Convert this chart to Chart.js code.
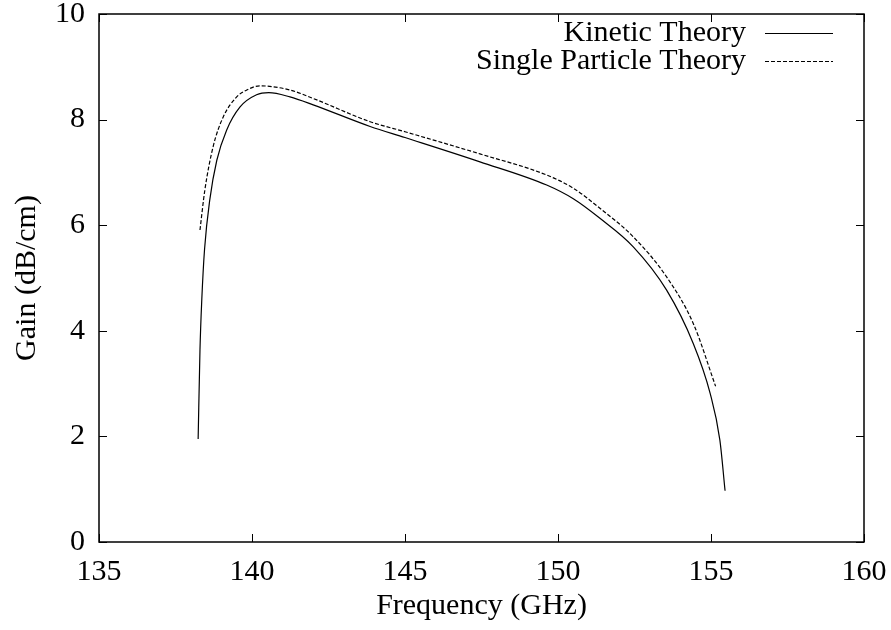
<!DOCTYPE html>
<html>
<head>
<meta charset="utf-8">
<script src="https://cdn.jsdelivr.net/npm/chart.js@4/dist/chart.umd.min.js"></script>
<style>
  html, body { margin: 0; padding: 0; background: #fff; }
  #wrap { width: 891px; height: 630px; }
</style>
</head>
<body>
<div id="wrap"><canvas id="gain"></canvas></div>
<script>
// Courbes (fréquence en GHz, gain en dB/cm)
const kineticFreq = [138.24, 138.30, 138.36, 138.45, 138.62, 138.85, 139.17, 139.61, 140.15, 140.55,
  141.24, 142.0, 143.86, 145.0, 147.45, 149.63, 150.5, 151.37, 152.46, 153.55, 154.42, 154.97, 155.29, 155.46];
const kineticGain = [1.95, 3.64, 4.6, 5.55, 6.48, 7.23, 7.80, 8.24, 8.47, 8.51,
  8.43, 8.28, 7.87, 7.66, 7.20, 6.76, 6.50, 6.13, 5.59, 4.77, 3.76, 2.82, 1.93, 0.97];

const singleFreq = [138.30, 138.46, 138.73, 139.06, 139.50, 139.83, 140.25, 141.24, 142.0, 143.86,
  145.0, 147.45, 149.63, 150.5, 151.37, 152.46, 153.55, 154.42, 155.15];
const singleGain = [5.91, 6.67, 7.49, 8.05, 8.43, 8.56, 8.64, 8.56, 8.40, 7.96,
  7.77, 7.35, 6.95, 6.70, 6.32, 5.78, 5.02, 4.14, 2.95];

const xTicks = [135, 140, 145, 150, 155, 160];
const yTicks = [0, 2, 4, 6, 8, 10];

const SERIF = "'Liberation Serif', 'DejaVu Serif', serif";

function toPoints(xs, ys) {
  return xs.map((x, i) => ({ x, y: ys[i] }));
}

// Cadre + graduations vers l'intérieur sur les quatre côtés, façon gnuplot
const framePlugin = {
  id: "frame",
  afterDraw(chart) {
    const { ctx, chartArea: a, scales } = chart;
    const len = 8;
    ctx.save();
    ctx.strokeStyle = "#000";
    ctx.lineWidth = 1.5;
    ctx.strokeRect(a.left, a.top, a.right - a.left, a.bottom - a.top);
    ctx.lineWidth = 1;
    ctx.beginPath();
    xTicks.forEach((v) => {
      const px = Math.round(scales.x.getPixelForValue(v)) + 0.5;
      ctx.moveTo(px, a.bottom); ctx.lineTo(px, a.bottom - len);
      ctx.moveTo(px, a.top); ctx.lineTo(px, a.top + len);
    });
    yTicks.forEach((v) => {
      const py = Math.round(scales.y.getPixelForValue(v)) + 0.5;
      ctx.moveTo(a.left, py); ctx.lineTo(a.left + len, py);
      ctx.moveTo(a.right, py); ctx.lineTo(a.right - len, py);
    });
    ctx.stroke();

    // Légende : texte aligné à droite puis échantillon de trait
    const rows = chart.data.datasets;
    ctx.font = "30px " + SERIF;
    ctx.fillStyle = "#000";
    ctx.textAlign = "right";
    ctx.textBaseline = "middle";
    rows.forEach((ds, i) => {
      const y = 33 + i * 28;
      ctx.fillText(ds.label, 746, y);
      ctx.beginPath();
      ctx.setLineDash(ds.borderDash || []);
      ctx.lineWidth = 1.2;
      ctx.moveTo(765, y + 0.5);
      ctx.lineTo(833, y + 0.5);
      ctx.stroke();
    });
    ctx.restore();
  },
};

new Chart(document.getElementById("gain"), {
  type: "line",
  data: {
    datasets: [
      {
        label: "Kinetic Theory",
        data: toPoints(kineticFreq, kineticGain),
        borderColor: "#000",
        borderWidth: 1.2,
        pointRadius: 0,
        cubicInterpolationMode: "monotone",
      },
      {
        label: "Single Particle Theory",
        data: toPoints(singleFreq, singleGain),
        borderColor: "#000",
        borderWidth: 1.2,
        borderDash: [4, 2],
        pointRadius: 0,
        cubicInterpolationMode: "monotone",
      },
    ],
  },
  options: {
    responsive: true,
    maintainAspectRatio: false,
    animation: false,
    layout: { padding: { top: 14, right: 27, left: 0, bottom: 0 } },
    plugins: { legend: { display: false }, tooltip: { enabled: false } },
    scales: {
      x: {
        type: "linear",
        min: 135,
        max: 160,
        afterBuildTicks: (s) => { s.ticks = xTicks.map((v) => ({ value: v })); },
        afterFit: (s) => { s.height = 88; s.paddingLeft = 0; s.paddingRight = 0; },
        grid: { display: false, drawTicks: false },
        border: { display: false },
        ticks: { color: "#000", padding: 12, font: { family: SERIF, size: 30 } },
        title: {
          display: true,
          text: "Frequency (GHz)",
          color: "#000",
          font: { family: SERIF, size: 30 },
          padding: { top: 0, bottom: 6 },
        },
      },
      y: {
        min: 0,
        max: 10,
        afterBuildTicks: (s) => { s.ticks = yTicks.map((v) => ({ value: v })); },
        afterFit: (s) => { s.width = 99; s.paddingTop = 0; s.paddingBottom = 0; },
        grid: { display: false, drawTicks: false },
        border: { display: false },
        ticks: { color: "#000", padding: 14, font: { family: SERIF, size: 30 } },
        title: {
          display: true,
          text: "Gain (dB/cm)",
          color: "#000",
          font: { family: SERIF, size: 30 },
          padding: { top: 9, bottom: 0 },
        },
      },
    },
  },
  plugins: [framePlugin],
});
</script>
</body>
</html>
